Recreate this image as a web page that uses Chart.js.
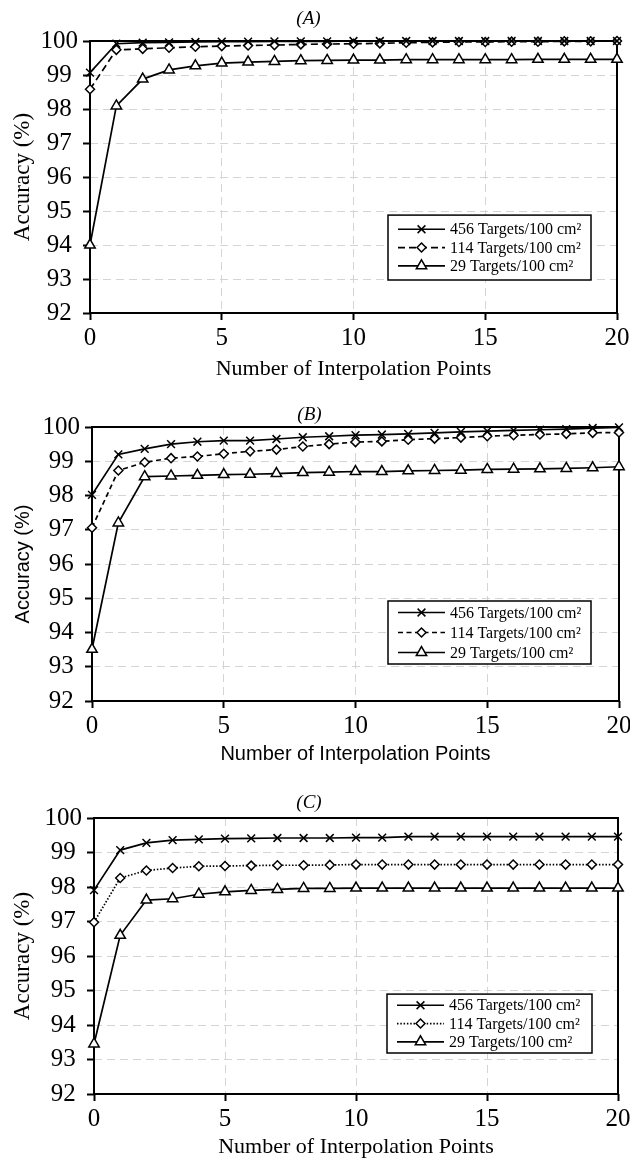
<!DOCTYPE html>
<html>
<head>
<meta charset="utf-8">
<script src="https://cdn.jsdelivr.net/npm/chart.js@4.4.1/dist/chart.umd.min.js"></script>
<style>
  html, body { margin: 0; padding: 0; background: #fff; }
  #wrap { position: relative; width: 630px; height: 1158px; overflow: hidden; background: #fff; }
  #wrap canvas { position: absolute; left: 0; }
</style>
</head>
<body>
<div id="wrap">
  <canvas id="panelA" width="630" height="390" style="top:0px"></canvas>
  <canvas id="panelB" width="630" height="390" style="top:380px"></canvas>
  <canvas id="panelC" width="630" height="388" style="top:770px"></canvas>
</div>
<script>
// Number of interpolation points (x axis)
const interpolationPoints = [0, 1, 2, 3, 4, 5, 6, 7, 8, 9, 10, 11, 12, 13, 14, 15, 16, 17, 18, 19, 20];

// Series names
const seriesNames = ['456 Targets/100 cm²', '114 Targets/100 cm²', '29 Targets/100 cm²'];

// Panel titles and axis labels
const panelTitles = ['(A)', '(B)', '(C)'];
const xAxisTitle = 'Number of Interpolation Points';
const yAxisTitle = 'Accuracy (%)';
const yTicks = [92, 93, 94, 95, 96, 97, 98, 99, 100];
const xTicks = [0, 5, 10, 15, 20];

// Accuracy (%) — panel A
const accA456 = [99.07, 99.92, 99.95, 99.96, 99.97, 99.98, 99.98, 99.99, 99.99, 99.99, 100, 100, 100, 100, 100, 100, 100, 100, 100, 100, 100];
const accA114 = [98.58, 99.74, 99.77, 99.80, 99.83, 99.85, 99.87, 99.88, 99.90, 99.91, 99.92, 99.93, 99.95, 99.96, 99.97, 99.97, 99.98, 99.98, 99.99, 99.99, 100];
const accA29  = [94.00, 98.09, 98.88, 99.15, 99.27, 99.35, 99.38, 99.40, 99.42, 99.43, 99.44, 99.44, 99.45, 99.45, 99.45, 99.45, 99.45, 99.46, 99.46, 99.46, 99.46];

// Accuracy (%) — panel B
const accB456 = [98.02, 99.20, 99.36, 99.50, 99.57, 99.60, 99.60, 99.65, 99.70, 99.73, 99.76, 99.78, 99.80, 99.83, 99.86, 99.88, 99.90, 99.92, 99.94, 99.97, 99.99];
const accB114 = [97.06, 98.73, 98.97, 99.09, 99.14, 99.22, 99.29, 99.34, 99.43, 99.50, 99.56, 99.58, 99.63, 99.66, 99.69, 99.73, 99.76, 99.78, 99.80, 99.83, 99.84];
const accB29  = [93.51, 97.20, 98.55, 98.57, 98.59, 98.61, 98.62, 98.64, 98.67, 98.68, 98.70, 98.70, 98.72, 98.73, 98.74, 98.76, 98.77, 98.78, 98.79, 98.81, 98.84];

// Accuracy (%) — panel C
const accC456 = [97.91, 99.07, 99.28, 99.36, 99.38, 99.40, 99.41, 99.42, 99.42, 99.42, 99.43, 99.43, 99.46, 99.46, 99.46, 99.46, 99.46, 99.46, 99.46, 99.46, 99.46];
const accC114 = [96.98, 98.26, 98.48, 98.55, 98.60, 98.61, 98.62, 98.63, 98.63, 98.64, 98.65, 98.65, 98.65, 98.65, 98.65, 98.65, 98.65, 98.65, 98.65, 98.65, 98.65];
const accC29  = [93.45, 96.60, 97.62, 97.66, 97.79, 97.86, 97.90, 97.93, 97.96, 97.96, 97.97, 97.97, 97.97, 97.97, 97.97, 97.97, 97.97, 97.97, 97.97, 97.97, 97.97];

const SERIF = '"Liberation Serif", "Times New Roman", Times, serif';
const SANS = '"Liberation Sans", Arial, Helvetica, sans-serif';

Chart.defaults.font.family = SERIF;
Chart.defaults.color = '#000';

// Black frame around the plotting area
const framePlugin = {
  id: 'frame',
  beforeDatasetsDraw(chart) {
    const { ctx, chartArea: a } = chart;
    ctx.save();
    ctx.strokeStyle = '#000';
    ctx.lineWidth = 2;
    ctx.strokeRect(a.left, a.top, a.right - a.left, a.bottom - a.top);
    ctx.restore();
  }
};

// Legend drawn inside a bordered box in the lower-right of the plot
const boxedLegend = {
  id: 'boxedLegend',
  afterDatasetsDraw(chart, args, opts) {
    const { ctx, chartArea: a } = chart;
    const sets = chart.data.datasets;
    const right = a.right - opts.right;
    const bottom = a.bottom - opts.bottom;
    const left = right - opts.width;
    const top = bottom - opts.padY * 2 - opts.rowH * sets.length;
    ctx.save();
    ctx.fillStyle = '#fff';
    ctx.fillRect(left, top, opts.width, bottom - top);
    ctx.strokeStyle = '#000';
    ctx.lineWidth = 1.5;
    ctx.strokeRect(left, top, opts.width, bottom - top);
    sets.forEach((ds, i) => {
      const y = top + opts.padY + opts.rowH * (i + 0.5);
      const x0 = left + 10, x1 = left + 57;
      ctx.save();
      ctx.strokeStyle = '#000';
      ctx.lineWidth = ds.borderWidth;
      ctx.setLineDash(ds.borderDash || []);
      ctx.beginPath();
      ctx.moveTo(x0, y);
      ctx.lineTo(x1, y);
      ctx.stroke();
      ctx.restore();
      ctx.save();
      ctx.fillStyle = '#fff';
      ctx.strokeStyle = '#000';
      ctx.lineWidth = ds.pointBorderWidth;
      Chart.helpers.drawPoint(ctx, {
        pointStyle: ds.pointStyle,
        radius: ds.pointRadius,
        borderWidth: ds.pointBorderWidth,
        rotation: 0
      }, (x0 + x1) / 2, y);
      ctx.restore();
      ctx.fillStyle = '#000';
      ctx.font = opts.fontSize + 'px ' + SERIF;
      ctx.textAlign = 'left';
      ctx.textBaseline = 'middle';
      ctx.fillText(ds.label, x1 + 5, y + 1);
    });
    ctx.restore();
  }
};

function makeSeries(values, name, style) {
  return {
    label: name,
    data: interpolationPoints.map((x, i) => ({ x: x, y: values[i] })),
    borderColor: '#000',
    borderWidth: 1.7,
    borderDash: style.dash || [],
    pointStyle: style.point,
    pointRadius: style.radius,
    pointBorderWidth: 1.5,
    pointBackgroundColor: '#fff',
    pointBorderColor: '#000',
    tension: 0,
    clip: false
  };
}

function buildPanel(canvasId, cfg) {
  const titleFont = cfg.axisTitleFamily;
  new Chart(document.getElementById(canvasId), {
    type: 'line',
    data: {
      datasets: [
        makeSeries(cfg.series[0], seriesNames[0], { point: 'crossRot', radius: 5.5 }),
        makeSeries(cfg.series[1], seriesNames[1], { point: 'rectRot', radius: 4.5, dash: cfg.dash114 }),
        makeSeries(cfg.series[2], seriesNames[2], { point: 'triangle', radius: 6 })
      ]
    },
    options: {
      responsive: false,
      animation: false,
      events: [],
      layout: { padding: { left: 0, right: 630 - cfg.plot.r, top: 0, bottom: 0 } },
      plugins: {
        legend: { display: false },
        tooltip: { enabled: false },
        title: {
          display: true,
          text: cfg.title,
          color: '#000',
          font: { family: SERIF, size: 19, style: 'italic', weight: 'normal', lineHeight: 1 },
          padding: { top: cfg.titleCenter - 9.5, bottom: cfg.plot.t - cfg.titleCenter - 9.5 }
        },
        boxedLegend: cfg.legend
      },
      scales: {
        x: {
          type: 'linear',
          min: 0,
          max: 20,
          afterFit(scale) {
            scale.height = cfg.h - cfg.plot.b;
            scale.paddingLeft = 0;
            scale.paddingRight = 0;
          },
          afterBuildTicks(scale) {
            scale.ticks = xTicks.map(v => ({ value: v }));
          },
          ticks: {
            color: '#000',
            padding: 3,
            maxRotation: 0,
            font: { family: SERIF, size: 25, lineHeight: 1.2 }
          },
          grid: {
            color: (c) => (c.tick && (c.tick.value === 0 || c.tick.value === 20)) ? 'rgba(0,0,0,0)' : '#d4d4d4',
            lineWidth: 1,
            drawTicks: true,
            tickLength: 7,
            tickColor: '#000',
            tickWidth: 2
          },
          border: { display: false, dash: [8, 5] },
          title: {
            display: true,
            text: xAxisTitle,
            color: '#000',
            font: { family: titleFont, size: cfg.xTitleSize, lineHeight: 1 },
            padding: { top: 0, bottom: Math.max(0, cfg.h - cfg.xTitleCenter - cfg.xTitleSize / 2) }
          }
        },
        y: {
          type: 'linear',
          min: 92,
          max: 100,
          afterFit(scale) {
            scale.width = cfg.plot.l;
            scale.paddingTop = 0;
            scale.paddingBottom = 0;
          },
          afterBuildTicks(scale) {
            scale.ticks = yTicks.map(v => ({ value: v }));
          },
          ticks: {
            color: '#000',
            padding: 5,
            crossAlign: 'center',
            font: { family: SERIF, size: 25, lineHeight: 1.2 }
          },
          grid: {
            color: (c) => (c.tick && (c.tick.value === 92 || c.tick.value === 100)) ? 'rgba(0,0,0,0)' : '#d4d4d4',
            lineWidth: 1,
            drawTicks: true,
            tickLength: 7,
            tickColor: '#000',
            tickWidth: 2
          },
          border: { display: false, dash: [8, 5] },
          title: {
            display: true,
            text: yAxisTitle,
            color: '#000',
            font: { family: titleFont, size: cfg.yTitleSize, lineHeight: 1 },
            padding: { top: 23 - cfg.yTitleSize / 2, bottom: 0 }
          }
        }
      }
    },
    plugins: [framePlugin, boxedLegend]
  });
}

buildPanel('panelA', {
  title: panelTitles[0],
  h: 390,
  plot: { l: 90, t: 41, r: 617, b: 313 },
  titleCenter: 19,
  xTitleCenter: 369,
  xTitleSize: 22,
  yTitleSize: 23,
  axisTitleFamily: SERIF,
  dash114: [7, 4],
  series: [accA456, accA114, accA29],
  legend: { right: 26, bottom: 33, width: 203, rowH: 18.3, padY: 5, fontSize: 16 }
});

buildPanel('panelB', {
  title: panelTitles[1],
  h: 390,
  plot: { l: 92, t: 47, r: 619, b: 321 },
  titleCenter: 35,
  xTitleCenter: 374,
  xTitleSize: 20,
  yTitleSize: 20,
  axisTitleFamily: SANS,
  dash114: [5, 3.5],
  series: [accB456, accB114, accB29],
  legend: { right: 28, bottom: 37, width: 203, rowH: 20, padY: 1.5, fontSize: 16 }
});

buildPanel('panelC', {
  title: panelTitles[2],
  h: 388,
  plot: { l: 94, t: 48, r: 618, b: 324 },
  titleCenter: 32.5,
  xTitleCenter: 377.5,
  xTitleSize: 22,
  yTitleSize: 23,
  axisTitleFamily: SERIF,
  dash114: [1.5, 1.8],
  series: [accC456, accC114, accC29],
  legend: { right: 26, bottom: 41, width: 205, rowH: 18.3, padY: 2, fontSize: 16 }
});
</script>
</body>
</html>
